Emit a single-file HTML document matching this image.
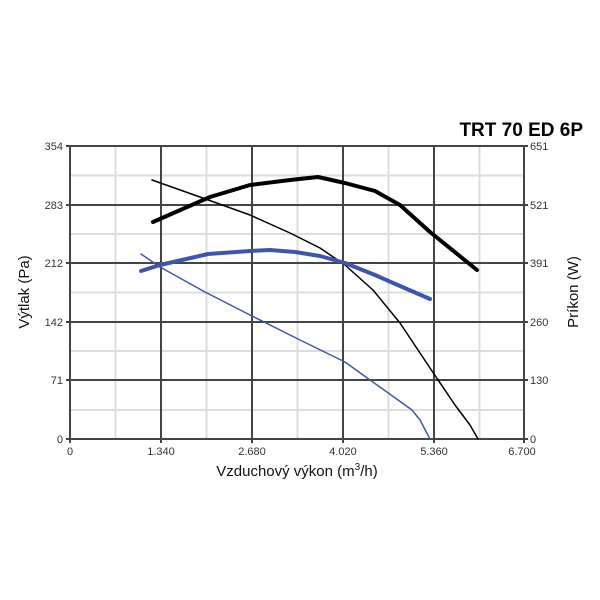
<!DOCTYPE html><html><head><style>body{margin:0;background:#fff}svg{display:block}text{font-family:"Liberation Sans",sans-serif}</style></head><body>
<svg width="600" height="600" viewBox="0 0 600 600">
<g stroke="#dcdcdc" stroke-width="2">
<line x1="115.5" y1="146" x2="115.5" y2="439"/><line x1="206.5" y1="146" x2="206.5" y2="439"/><line x1="297.5" y1="146" x2="297.5" y2="439"/><line x1="388.5" y1="146" x2="388.5" y2="439"/><line x1="479.5" y1="146" x2="479.5" y2="439"/>
<line x1="70" y1="175.5" x2="524" y2="175.5"/><line x1="70" y1="234" x2="524" y2="234"/><line x1="70" y1="292.5" x2="524" y2="292.5"/><line x1="70" y1="351" x2="524" y2="351"/><line x1="70" y1="410" x2="524" y2="410"/>
</g>
<g stroke="#444" stroke-width="2">
<line x1="161" y1="146" x2="161" y2="439"/><line x1="252" y1="146" x2="252" y2="439"/><line x1="343" y1="146" x2="343" y2="439"/><line x1="434" y1="146" x2="434" y2="439"/>
<line x1="70" y1="205" x2="524" y2="205"/><line x1="70" y1="263" x2="524" y2="263"/><line x1="70" y1="322" x2="524" y2="322"/><line x1="70" y1="380" x2="524" y2="380"/>
<rect x="70" y="146" width="454" height="293" fill="none"/>
<path d="M66 146h4M66 205h4M66 263h4M66 322h4M66 380h4M66 439h4M524 146h4M524 205h4M524 263h4M524 322h4M524 380h4M524 439h4M70 439v4M161 439v4M252 439v4M343 439v4M434 439v4M524 439v4"/>
</g>
<g fill="none" stroke-linejoin="round" stroke-linecap="round">
<polyline stroke="#000" stroke-width="1.5" points="152,180 200,197 250,215 290,233 320,248 345,265 373,290 400,323 430,368 455,405 470,425 478,439"/>
<polyline stroke="#000" stroke-width="4" points="153,222 210,197 250,185 290,180 318,177 345,183 375,191 400,205 430,232 477,270"/>
<polyline stroke="#3f56a8" stroke-width="1.5" points="141,254 160,267 205,292 250,315 300,340 345,362 370,380 412,410 420,420 430,439"/>
<polyline stroke="#3f56a8" stroke-width="4" points="141,271 160,265 208,254 250,251 270,250 295,252 320,256 345,263 375,275 400,286 430,299"/>
</g>
<g font-size="11" fill="#333">
<g text-anchor="end"><text x="63" y="150">354</text><text x="63" y="209">283</text><text x="63" y="267">212</text><text x="63" y="326">142</text><text x="63" y="384">71</text><text x="63" y="443">0</text></g>
<g><text x="530" y="150">651</text><text x="530" y="209">521</text><text x="530" y="267">391</text><text x="530" y="326">260</text><text x="530" y="384">130</text><text x="530" y="443">0</text></g>
<g text-anchor="middle"><text x="70" y="455">0</text><text x="161" y="455">1.340</text><text x="252" y="455">2.680</text><text x="343" y="455">4.020</text><text x="434" y="455">5.360</text><text x="522" y="455">6.700</text></g>
</g>
<text x="297" y="476" font-size="15" text-anchor="middle" fill="#111">Vzduchový výkon (m<tspan font-size="10" dy="-6">3</tspan><tspan dy="6">/h)</tspan></text>
<text transform="translate(29,292) rotate(-90)" font-size="15" text-anchor="middle" fill="#111">Výtlak (Pa)</text>
<text transform="translate(578,292) rotate(-90)" font-size="15" text-anchor="middle" fill="#111">Príkon (W)</text>
<text x="583" y="136" font-size="19" font-weight="bold" text-anchor="end" fill="#000">TRT 70 ED 6P</text>
</svg></body></html>
